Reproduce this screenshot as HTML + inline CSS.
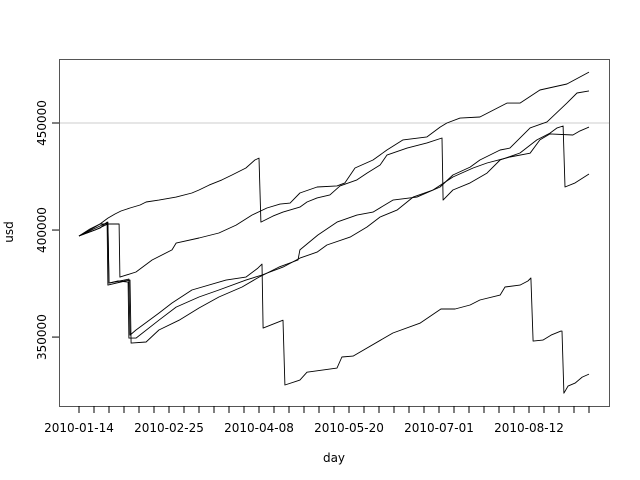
<!DOCTYPE html>
<html><head><meta charset="utf-8"><style>
html,body{margin:0;padding:0;background:#fff;}
svg{display:block;font-family:"DejaVu Sans","Liberation Sans",sans-serif;}
</style></head><body>
<svg id="chart" width="640" height="480" viewBox="0 0 640 480" xmlns="http://www.w3.org/2000/svg">
<rect x="0" y="0" width="640" height="480" fill="#fff"/>
<g id="grid"></g>
<g id="series"></g>
<rect x="59.5" y="59.5" width="550" height="347" fill="none" stroke="#555" stroke-width="1"/>
<g id="xaxis"></g>
<g id="yaxis"></g>
<text x="334" y="462" font-size="12" text-anchor="middle">day</text>
<text x="13" y="232" font-size="12" text-anchor="middle" transform="rotate(-90 13 232)">usd</text>
</svg>
<script>
// days since 2010-01-14 and values in thousands USD
const s1Days=[0,5.1,9.8,11.7,18.7,19.1,26.6,34.1,43.4,45.3,56,65.3,73.3,80.7,87.7,93.8,98.5,103.1,111.1,120.4,124.1,128.8,137.2,143.7,151.2,162.4,168.5,171.7,177.8,187.1,199.7,205.8,215.1,227.7,238];
const s1Vals=[397.2,400,402.8,402.8,402.8,378,380.4,386,390.7,393.9,396.3,398.6,402.3,407,410.3,412.1,412.6,417.3,420.1,420.6,422,429,432.7,437.4,442.1,443.5,448.1,450,452.3,452.8,459.3,459.3,465.4,468.2,473.8];
const s2Days=[0,9.8,13.1,13.5,21.5,23.8,24.3,31.3,37.3,46.7,56,65.3,76.1,84,93.3,102.2,103.1,111.5,120.4,129.7,137.2,146.5,157.7,168.5,174.5,182.5,187.1,196.5,201.1,210.5,218.4,227.7,232.4,238];
const s2Vals=[397.2,400.9,403.7,374.3,376.2,376.6,347.2,347.7,353.3,357.9,363.6,368.7,373.4,378,382.7,386,390.7,397.7,403.7,407,408.4,414,415.4,420.1,425.7,429.4,432.7,437.4,438.3,447.7,450.5,459.3,464,465];
const s3Days=[0,7.5,13.5,14,18.2,22.9,23.3,26.6,37.3,45.3,56,65.3,77.9,85.4,95.2,103.1,111.1,115.7,126.5,134.4,140.5,148.4,155.9,165.2,174.5,183.9,190.4,201.1,210.5,215.1,219.8,230.5,233.8,238];
const s3Vals=[397.2,400,402.8,375.2,376.2,375.7,349.5,349.5,357.9,364,368.7,372,376.6,379,382.7,386.9,389.7,393,396.7,401.4,406.1,409.3,415.4,418.7,424.8,429,431.3,434.1,435.9,442.1,444.9,444.4,446.3,448.1];
const s4Days=[0,5.1,9.8,13.5,16.8,19.6,23.8,28.5,31.3,37.3,45.3,52.7,56,60.7,66.7,71.4,77.9,82.1,84,84.9,90.5,95.2,103.1,106.4,111.1,117.1,121.8,129.7,134.4,140.5,143.7,153.1,162.4,169.4,169.9,174.5,182.5,190.4,196.5,205.8,213.7,219.8,223.1,225.9,226.8,231.5,238];
const s4Vals=[397.2,400.5,402.8,405.6,407.5,408.9,410.3,411.7,413.1,414,415.4,417.3,418.7,421,423.4,425.7,429,432.7,433.6,403.7,406.5,408.4,410.7,413.1,415,416.4,420.6,423.4,426.6,430.4,435,438.3,440.7,443,414,418.7,422,426.6,432.7,436,442.1,445.3,447.7,448.6,420.1,422,426.2];
const s5Days=[0,9.8,13.5,14,19.1,23.3,23.8,26.6,37.3,43.4,52.7,68.6,77.9,83.5,85.4,85.9,95.2,96.1,103.1,106.4,120.4,122.7,127.9,146.5,159.1,168.9,175.5,182.5,187.1,196.5,198.8,205.8,209.5,210.9,211.9,216.5,220.3,224.9,225.4,226.3,228.2,231.5,234.8,238];
const s5Vals=[397.2,401.9,403.7,375.2,376.2,377.1,350.9,353.3,361.2,365.9,372,376.6,378,382.2,384.1,354.2,357.9,327.6,329.9,333.6,335.5,340.7,341.1,351.9,356.5,363.1,363.1,365,367.3,369.6,373.4,374.3,376.2,377.6,348.1,348.6,350.9,352.8,352.8,323.8,327.1,328.5,331.3,332.7];
const xTickDays=[0,42,84,126,168,210];
const xTickLabels=["2010-01-14","2010-02-25","2010-04-08","2010-05-20","2010-07-01","2010-08-12"];
const yTickVals=[350,400,450];
const yTickLabels=["350000","400000","450000"];
const gridVals=[450];

const NS="http://www.w3.org/2000/svg";
const X0=79,PXD=2.1429;
function xs(d){return X0+d*PXD;}
const YMIN=317.8,YMAX=479.9,YB=406,YT=59;
function ys(v){return YB-(v-YMIN)/(YMAX-YMIN)*(YB-YT);}
function mk(tag,attrs,parent){const e=document.createElementNS(NS,tag);for(const k in attrs)e.setAttribute(k,attrs[k]);parent.appendChild(e);return e;}

const grid=document.getElementById('grid');
gridVals.forEach(v=>{
  const l=mk('line',{x1:59,x2:609,y1:ys(v),y2:ys(v),stroke:'#cccccc','stroke-width':1},grid);
  
  
});

const seriesG=document.getElementById('series');
const all=[[s1Days,s1Vals],[s2Days,s2Vals],[s3Days,s3Vals],[s4Days,s4Vals],[s5Days,s5Vals]];
all.forEach((s,i)=>{
  const pts=s[0].map((d,j)=>xs(d).toFixed(1)+','+ys(s[1][j]).toFixed(1)).join(' ');
  const p=mk('polyline',{points:pts,fill:'none',stroke:'#000','stroke-width':0.9,'stroke-linejoin':'round'},seriesG);
  
  
});

const xa=document.getElementById('xaxis');
for(let d=0;d<=238;d+=7){
  const t=mk('line',{x1:xs(d),x2:xs(d),y1:406,y2:413,stroke:'#000','stroke-width':1},xa);
  
  
}
xTickDays.forEach((d,i)=>{
  const t=mk('text',{x:xs(d),y:432,'font-size':12,'text-anchor':'middle'},xa);
  t.textContent=xTickLabels[i];
  
  
});
const ya=document.getElementById('yaxis');
yTickVals.forEach((v,i)=>{
  const y=ys(v);
  const t=mk('line',{x1:52,x2:59,y1:y,y2:y,stroke:'#000','stroke-width':1},ya);
  
  
  const tx=mk('text',{x:46,y:y,'font-size':12,'text-anchor':'middle',transform:'rotate(-90 46 '+y+')'},ya);
  tx.textContent=yTickLabels[i];
  
  
});
</script>
</body></html>
